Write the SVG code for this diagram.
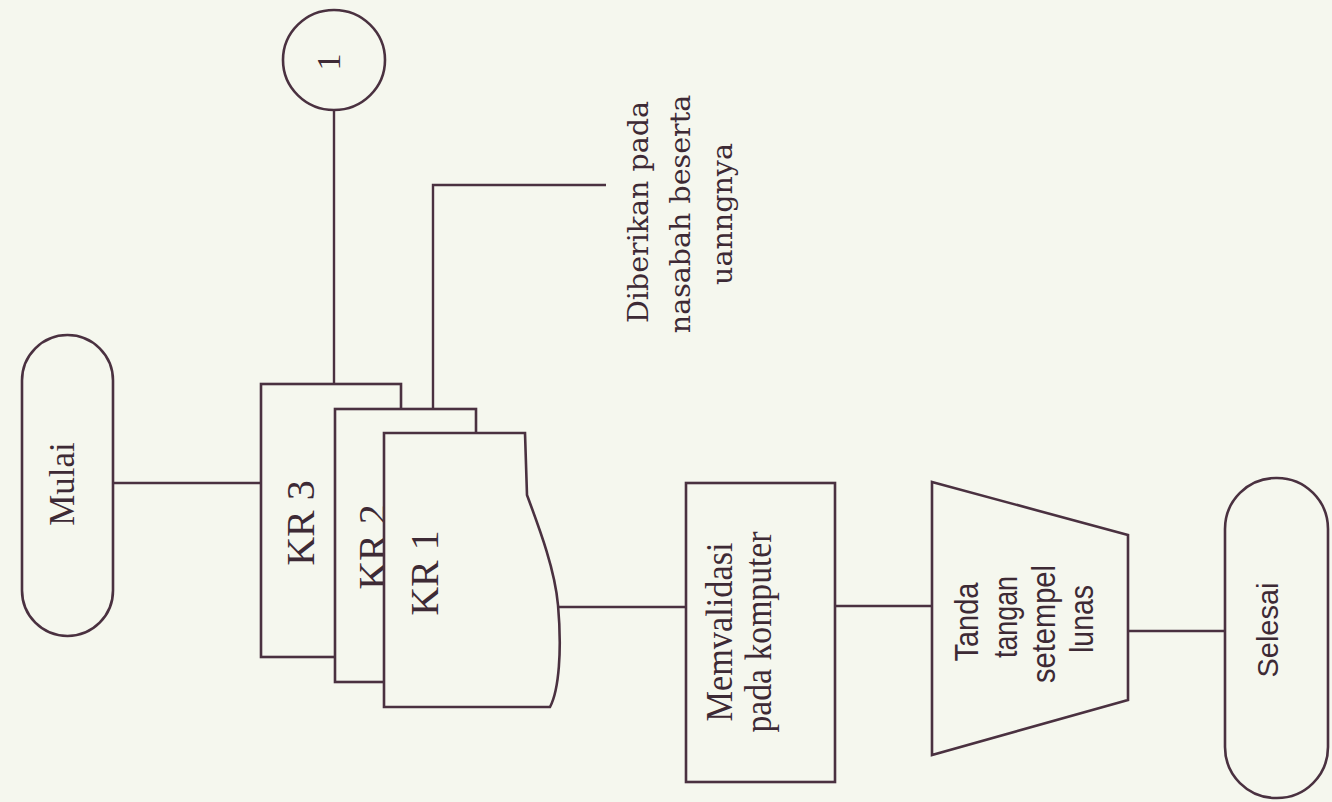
<svg xmlns="http://www.w3.org/2000/svg" width="1332" height="802" viewBox="0 0 1332 802">
<style>
.s{fill:#f5f7ee;stroke:#4a3140;stroke-width:2.6;stroke-linejoin:miter}
.c{fill:none;stroke:#4a3140;stroke-width:2.4}
.t{fill:#3d2a35;font-family:"Liberation Serif","Times New Roman",serif}
.a{fill:#3d2a35;font-family:"Liberation Sans",Arial,sans-serif}
.d{fill:#3d2a35;font-family:"DejaVu Serif",serif}
</style>
<rect x="0" y="0" width="1332" height="802" fill="#f5f7ee"/>
<g id="connectors">
<line class="c" x1="113" y1="483" x2="261" y2="483"/>
<line class="c" x1="334" y1="110" x2="334" y2="384"/>
<polyline class="c" points="433,409 433,185 606,185"/>
<line class="c" x1="558" y1="607" x2="686" y2="607"/>
<line class="c" x1="835" y1="606" x2="932" y2="606"/>
<line class="c" x1="1128" y1="631" x2="1225" y2="631"/>
</g>
<g id="mulai">
<rect class="s" x="22" y="335" width="91" height="301" rx="45.5" ry="45.5"/>
<text class="t" font-size="35" text-anchor="middle" transform="translate(74,484) rotate(-90)">Mulai</text>
</g>
<g id="connector1">
<ellipse class="s" cx="334" cy="60" rx="51" ry="50"/>
<text class="t" font-size="34" text-anchor="middle" transform="translate(340,62) rotate(-90)">1</text>
</g>
<g id="kr3">
<rect class="s" x="261" y="384" width="140" height="273"/>
<text class="t" font-size="40" text-anchor="middle" transform="translate(314,523) rotate(-90)">KR 3</text>
</g>
<g id="kr2">
<rect class="s" x="335" y="409" width="141" height="273"/>
<text class="t" font-size="40" text-anchor="middle" transform="translate(386,547) rotate(-90)">KR 2</text>
</g>
<g id="kr1">
<path class="s" d="M384,433 L525,433 L527,495 C540,530 555,570 558,605 C562,650 559,690 550,707 L384,707 Z"/>
<text class="t" font-size="40" text-anchor="middle" transform="translate(438,573) rotate(-90)">KR 1</text>
</g>
<g id="diberikan">
<text class="d" font-size="28.5" text-anchor="middle" transform="translate(648,212) rotate(-90)">Diberikan pada</text>
<text class="d" font-size="28.5" text-anchor="middle" transform="translate(690,214) rotate(-90)">nasabah beserta</text>
<text class="d" font-size="28.5" text-anchor="middle" transform="translate(732,214) rotate(-90)">uanngnya</text>
</g>
<g id="memvalidasi">
<rect class="s" x="686" y="483" width="149" height="299"/>
<text class="t" font-size="38" text-anchor="middle" textLength="179" lengthAdjust="spacingAndGlyphs" transform="translate(732,632) rotate(-90)">Memvalidasi</text>
<text class="t" font-size="38" text-anchor="middle" textLength="201" lengthAdjust="spacingAndGlyphs" transform="translate(771,632) rotate(-90)">pada komputer</text>
</g>
<g id="tanda">
<polygon class="s" points="932,482 1128,535 1128,700 932,755"/>
<text class="a" font-size="33" text-anchor="middle" textLength="79" lengthAdjust="spacingAndGlyphs" transform="translate(978,622) rotate(-90)">Tanda</text>
<text class="a" font-size="33" text-anchor="middle" textLength="82" lengthAdjust="spacingAndGlyphs" transform="translate(1017,617) rotate(-90)">tangan</text>
<text class="a" font-size="33" text-anchor="middle" textLength="118" lengthAdjust="spacingAndGlyphs" transform="translate(1055,624) rotate(-90)">setempel</text>
<text class="a" font-size="33" text-anchor="middle" textLength="68" lengthAdjust="spacingAndGlyphs" transform="translate(1093,619) rotate(-90)">lunas</text>
</g>
<g id="selesai">
<rect class="s" x="1225" y="478" width="103" height="320" rx="51" ry="51"/>
<text class="a" font-size="29" text-anchor="middle" transform="translate(1278,630) rotate(-90)">Selesai</text>
</g>
</svg>
